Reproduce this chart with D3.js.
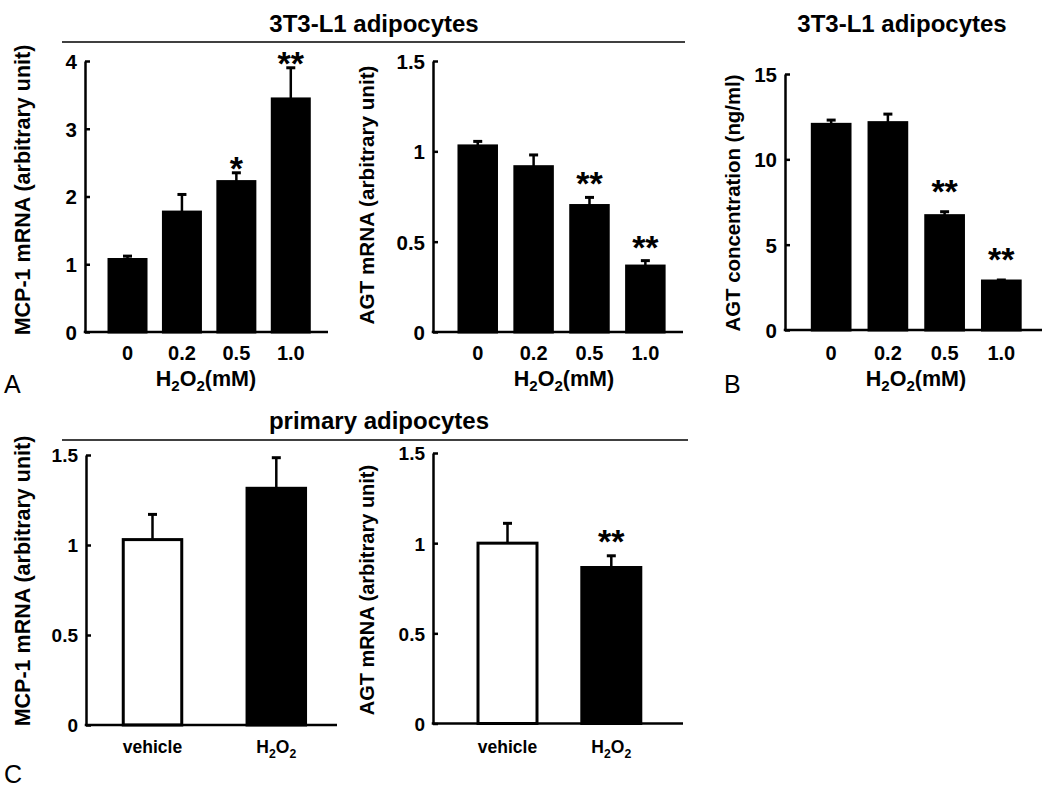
<!DOCTYPE html>
<html>
<head>
<meta charset="utf-8">
<script src="https://cdn.jsdelivr.net/npm/d3@7/dist/d3.min.js"></script>
<style>
  html, body { margin: 0; padding: 0; background: #fff; }
  svg { display: block; }
  text { font-family: "Liberation Sans", Arial, Helvetica, sans-serif; fill: #000; }
</style>
</head>
<body>
<svg id="chart" width="1050" height="788"></svg>
<script>
// ---------------- data ----------------
const doses = ["0", "0.2", "0.5", "1.0"];
const mcp1Mean = [1.07, 1.77, 2.22, 3.44];
const mcp1Err  = [0.05, 0.26, 0.13, 0.46];
const mcp1Sig  = ["", "", "*", "**"];
const mcp1Ticks = [0, 1, 2, 3, 4];

const agtMean = [1.03, 0.915, 0.70, 0.365];
const agtErr  = [0.025, 0.065, 0.045, 0.03];
const agtSig  = ["", "", "**", "**"];
const agtTicks = [0, 0.5, 1, 1.5];

const concMean = [12.05, 12.15, 6.70, 2.87];
const concErr  = [0.25, 0.5, 0.23, 0.06];
const concSig  = ["", "", "**", "**"];
const concTicks = [0, 5, 10, 15];

const groups = ["vehicle", "H2O2"];
const primMcp1Mean = [1.03, 1.315];
const primMcp1Err  = [0.14, 0.17];
const primMcp1Sig  = ["", ""];
const primAgtMean = [1.0, 0.865];
const primAgtErr  = [0.11, 0.065];
const primAgtSig  = ["", "**"];
const primTicks = [0, 0.5, 1, 1.5];

// ---------------- styles ----------------
const groupFill = ["#fff", "#000"];
const doseFill = ["#000", "#000", "#000", "#000"];
const FONT = '"Liberation Sans", Arial, Helvetica, sans-serif';

const svg = d3.select("#chart");

function setLabel(sel, txt) {
  sel.text(null);
  if (txt.startsWith("H2O2")) {
    sel.append("tspan").text("H");
    sel.append("tspan").attr("font-size", "0.7em").attr("dy", 5).text("2");
    sel.append("tspan").attr("dy", -5).text("O");
    sel.append("tspan").attr("font-size", "0.7em").attr("dy", 5).text("2");
    const rest = txt.slice(4);
    if (rest) sel.append("tspan").attr("dy", -5).text(rest);
  } else {
    sel.text(txt);
  }
}

function panel(cfg) {
  const g = svg.append("g");
  const y = d3.scaleLinear().domain([0, cfg.yMax]).range([cfg.y0, cfg.yTop]);
  const n = cfg.cats.length;
  const step = (cfg.band[1] - cfg.band[0]) / n;
  const pi = 1 - cfg.barW / step;
  const x = d3.scaleBand().domain(cfg.cats).range(cfg.band)
    .paddingInner(pi).paddingOuter(pi / 2);

  // bars
  g.selectAll("rect.bar").data(cfg.cats).enter().append("rect")
    .attr("class", "bar")
    .attr("x", d => x(d))
    .attr("width", x.bandwidth())
    .attr("y", (d, i) => y(cfg.mean[i]))
    .attr("height", (d, i) => y(0) - y(cfg.mean[i]))
    .attr("fill", (d, i) => cfg.fills[i])
    .attr("stroke", "#000")
    .attr("stroke-width", 3);

  // error bars (upper only)
  const cx = d => x(d) + x.bandwidth() / 2;
  g.selectAll("line.err").data(cfg.cats).enter().append("line")
    .attr("x1", cx).attr("x2", cx)
    .attr("y1", (d, i) => y(cfg.mean[i]))
    .attr("y2", (d, i) => y(cfg.mean[i] + cfg.err[i]))
    .attr("stroke", "#000").attr("stroke-width", 2.5);
  g.selectAll("line.cap").data(cfg.cats).enter().append("line")
    .attr("x1", d => cx(d) - 4.5).attr("x2", d => cx(d) + 4.5)
    .attr("y1", (d, i) => y(cfg.mean[i] + cfg.err[i]))
    .attr("y2", (d, i) => y(cfg.mean[i] + cfg.err[i]))
    .attr("stroke", "#000").attr("stroke-width", 3);

  // significance stars
  g.selectAll("text.sig").data(cfg.cats).enter().append("text")
    .attr("x", cx)
    .attr("y", (d, i) => y(cfg.mean[i] + cfg.err[i]) - cfg.starGap + 18)
    .attr("text-anchor", "middle")
    .attr("font-size", 34).attr("font-weight", "bold")
    .text((d, i) => cfg.sig[i]);

  // y axis
  const yAxis = d3.axisLeft(y).tickValues(cfg.ticks).tickFormat(d3.format("~g"))
    .tickSizeInner(-5).tickSizeOuter(0).tickPadding(8);
  const ya = g.append("g").attr("transform", `translate(${cfg.axisX},0)`).call(yAxis);
  ya.select(".domain").attr("stroke-width", 2.5);
  ya.selectAll(".tick line").attr("stroke-width", 2.5);
  ya.selectAll(".tick text").attr("font-family", FONT).attr("font-size", cfg.yTickFs)
    .attr("font-weight", "bold").attr("dy", "0.36em");

  // x axis baseline
  g.append("line").attr("x1", cfg.axisX - 1.25).attr("x2", cfg.axisX1)
    .attr("y1", cfg.y0).attr("y2", cfg.y0)
    .attr("stroke", "#000").attr("stroke-width", 2.5);

  // x tick labels via axis
  const xAxis = d3.axisBottom(x).tickSize(0).tickPadding(0);
  const xa = g.append("g").attr("transform", `translate(0,${cfg.y0})`).call(xAxis);
  xa.select(".domain").remove();
  xa.selectAll(".tick text").attr("font-family", FONT).attr("font-size", cfg.xTickFs)
    .attr("font-weight", "bold").attr("y", cfg.tickBase - cfg.y0).attr("dy", 0)
    .each(function(d) { setLabel(d3.select(this), d); });

  // x title
  if (cfg.xTitle) {
    const t = g.append("text")
      .attr("x", cfg.xTitleX).attr("y", cfg.xTitleBase)
      .attr("text-anchor", "middle").attr("font-size", 21.5).attr("font-weight", "bold");
    setLabel(t, cfg.xTitle);
  }

  // y title
  g.append("text")
    .attr("transform", `translate(${cfg.yLabelX},${cfg.yLabelY}) rotate(-90)`)
    .attr("text-anchor", "middle").attr("dy", "0.35em")
    .attr("font-size", cfg.yLabelFs).attr("font-weight", "bold")
    .text(cfg.yLabel);
}

// ---------------- panel A (MCP-1) ----------------
panel({
  cats: doses, mean: mcp1Mean, err: mcp1Err, sig: mcp1Sig, fills: doseFill,
  yMax: 4, ticks: mcp1Ticks, y0: 332, yTop: 61,
  axisX: 85, axisX1: 328, band: [100.3, 318], barW: 37,
  yTickFs: 20.5, xTickFs: 20,
  tickBase: 360, xTitle: "H2O2(mM)", xTitleX: 206, xTitleBase: 386,
  yLabel: "MCP-1 mRNA (arbitrary unit)", yLabelX: 22, yLabelY: 190, yLabelFs: 21.5, starGap: 11
});
// ---------------- panel A (AGT mRNA) ----------------
panel({
  cats: doses, mean: agtMean, err: agtErr, sig: agtSig, fills: doseFill,
  yMax: 1.5, ticks: agtTicks, y0: 332, yTop: 61,
  axisX: 433, axisX1: 683, band: [449.8, 673.3], barW: 37.5,
  yTickFs: 20.5, xTickFs: 20,
  tickBase: 360, xTitle: "H2O2(mM)", xTitleX: 564, xTitleBase: 386,
  yLabel: "AGT mRNA (arbitrary unit)", yLabelX: 367, yLabelY: 195, yLabelFs: 20.7, starGap: 20
});
// ---------------- panel B ----------------
panel({
  cats: doses, mean: concMean, err: concErr, sig: concSig, fills: doseFill,
  yMax: 15, ticks: concTicks, y0: 330, yTop: 74,
  axisX: 785, axisX1: 1042, band: [802.8, 1029.7], barW: 37.7,
  yTickFs: 20.5, xTickFs: 20,
  tickBase: 360, xTitle: "H2O2(mM)", xTitleX: 916, xTitleBase: 386,
  yLabel: "AGT concentration (ng/ml)", yLabelX: 733, yLabelY: 203, yLabelFs: 20.4, starGap: 27
});
// ---------------- panel C (MCP-1) ----------------
panel({
  cats: groups, mean: primMcp1Mean, err: primMcp1Err, sig: primMcp1Sig, fills: groupFill,
  yMax: 1.5, ticks: primTicks, y0: 725, yTop: 455,
  axisX: 86, axisX1: 337, band: [90.6, 338.2], barW: 58.5,
  yTickFs: 19, xTickFs: 17.5,
  tickBase: 753, xTitle: null,
  yLabel: "MCP-1 mRNA (arbitrary unit)", yLabelX: 22, yLabelY: 581, yLabelFs: 21.5, starGap: 21
});
// ---------------- panel C (AGT) ----------------
panel({
  cats: groups, mean: primAgtMean, err: primAgtErr, sig: primAgtSig, fills: groupFill,
  yMax: 1.5, ticks: primTicks, y0: 723.5, yTop: 453,
  axisX: 433, axisX1: 683, band: [455.6, 663.2], barW: 59,
  yTickFs: 19, xTickFs: 17.5,
  tickBase: 753, xTitle: null,
  yLabel: "AGT mRNA (arbitrary unit)", yLabelX: 367, yLabelY: 590, yLabelFs: 20, starGap: 21
});

// ---------------- titles, rules, panel letters ----------------
function title(txt, x, yb) {
  svg.append("text").attr("x", x).attr("y", yb).attr("text-anchor", "middle")
    .attr("font-size", 24).attr("font-weight", "bold").text(txt);
}
title("3T3-L1 adipocytes", 374, 32);
title("3T3-L1 adipocytes", 902, 32);
title("primary adipocytes", 379, 429);
svg.append("line").attr("x1", 62).attr("x2", 685).attr("y1", 42).attr("y2", 42)
  .attr("stroke", "#000").attr("stroke-width", 1.5);
svg.append("line").attr("x1", 62).attr("x2", 688).attr("y1", 440).attr("y2", 440)
  .attr("stroke", "#000").attr("stroke-width", 1.5);

function letter(txt, x, yb) {
  svg.append("text").attr("x", x).attr("y", yb).attr("font-size", 25)
    .attr("font-weight", "normal").text(txt);
}
letter("A", 4, 393);
letter("B", 724, 393);
letter("C", 4, 783);
</script>
</body>
</html>
